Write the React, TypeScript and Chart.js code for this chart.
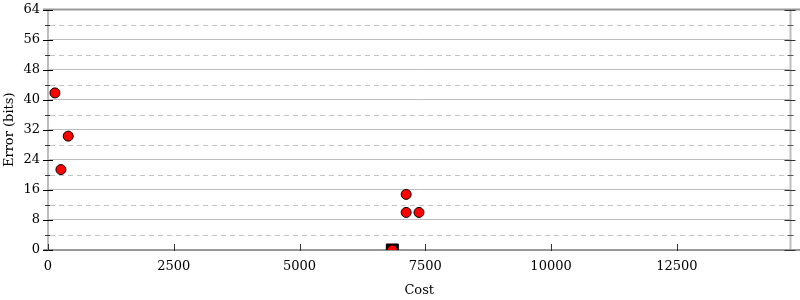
import React, { useEffect, useRef } from "react";
import { Chart, registerables } from "chart.js";

Chart.register(...registerables);

const costs = [138, 402, 257, 7120, 7120, 7375, 6845];
const errors = [41.8, 30.3, 21.4, 14.8, 10, 10, 0];
const bestCost = [6845];
const bestError = [0];
const xTicks = [0, 2500, 5000, 7500, 10000, 12500];
const yMajor = [0, 8, 16, 24, 32, 40, 48, 56, 64];
const yMinor = [4, 12, 20, 28, 36, 44, 52, 60];
const X_MAX = 14760;
const Y_MAX = 64;

const framePlugin = {
  id: "frame",
  beforeDatasetsDraw(chart: any) {
    const { ctx, chartArea: a, scales } = chart;
    const x = scales.x;
    const y = scales.y;
    const line = (x1: number, y1: number, x2: number, y2: number) => {
      ctx.beginPath();
      ctx.moveTo(x1, y1);
      ctx.lineTo(x2, y2);
      ctx.stroke();
    };
    ctx.save();
    ctx.strokeStyle = "#c4c4c4";
    ctx.lineWidth = 1;
    ctx.setLineDash([5, 4]);
    for (const v of yMinor) {
      const py = Math.round(y.getPixelForValue(v)) + 0.5;
      line(a.left + 2, py, a.right - 2, py);
    }
    ctx.setLineDash([]);
    ctx.strokeStyle = "#bdbdbd";
    ctx.lineWidth = 2;
    line(a.left, a.top, a.left, a.bottom);
    line(a.right, a.top, a.right, a.bottom);
    ctx.strokeStyle = "#9a9a9a";
    ctx.lineWidth = 2;
    line(a.left - 5, a.top, 800, a.top);
    line(a.left - 5, a.bottom, 800, a.bottom);
    ctx.lineWidth = 1;
    for (const v of yMajor) {
      const py = Math.round(y.getPixelForValue(v)) + 0.5;
      ctx.strokeStyle = "#000";
      line(a.left - 5, py, a.left + 5, py);
      ctx.strokeStyle = "#333";
      line(a.right - 6, py, a.right + 5, py);
    }
    for (const v of yMinor) {
      const py = Math.round(y.getPixelForValue(v)) + 0.5;
      ctx.strokeStyle = "#333";
      line(a.left - 3, py, a.left + 2, py);
      ctx.strokeStyle = "#555";
      line(a.right - 3, py, a.right + 3, py);
    }
    for (const v of xTicks) {
      const px = Math.round(x.getPixelForValue(v)) + 0.5;
      ctx.strokeStyle = "#333";
      line(px, a.bottom - 6, px, a.bottom + 1);
    }
    ctx.restore();
  },
};

export default function App() {
  const ref = useRef<HTMLCanvasElement>(null);
  useEffect(() => {
    if (!ref.current) return;
    const font = { family: "'DejaVu Serif', serif", size: 13 };
    const chart = new Chart(ref.current, {
      type: "scatter",
      data: {
        datasets: [
          {
            label: "best",
            data: bestCost.map((c, i) => ({ x: c, y: bestError[i] })),
            pointStyle: "rect",
            pointRadius: 8.5,
            backgroundColor: "#000",
            borderColor: "#000",
            borderWidth: 1,
            order: 2,
          },
          {
            label: "points",
            data: costs.map((c, i) => ({ x: c, y: errors[i] })),
            pointStyle: "circle",
            pointRadius: 5,
            backgroundColor: "#ff0000",
            borderColor: "#000",
            borderWidth: 1,
            order: 1,
          },
        ],
      },
      options: {
        animation: false,
        responsive: false,
        events: [],
        layout: { padding: { top: 7, right: 6, left: 0, bottom: 0 } },
        plugins: { legend: { display: false }, tooltip: { enabled: false } },
        scales: {
          x: {
            type: "linear",
            min: 0,
            max: X_MAX,
            afterFit: (s: any) => {
              s.height = 50;
              s.paddingLeft = 0;
              s.paddingRight = 0;
            },
            afterBuildTicks: (s: any) => {
              s.ticks = xTicks.map((v) => ({ value: v }));
            },
            ticks: {
              includeBounds: false,
              autoSkip: false,
              maxRotation: 0,
              color: "#000",
              font,
              padding: 9,
              callback: (v: any) => String(v),
            },
            grid: { display: false, drawTicks: false },
            border: { display: false },
            title: {
              display: true,
              text: "Cost",
              color: "#000",
              font,
              padding: { top: 4, bottom: 2 },
            },
          },
          y: {
            type: "linear",
            min: 0,
            max: Y_MAX,
            afterFit: (s: any) => {
              s.width = 48;
              s.paddingTop = 0;
              s.paddingBottom = 0;
            },
            afterBuildTicks: (s: any) => {
              s.ticks = yMajor.map((v) => ({ value: v }));
            },
            ticks: {
              autoSkip: false,
              color: "#000",
              font,
              padding: 8,
              callback: (v: any) => String(v),
            },
            grid: { color: "#bdbdbd", lineWidth: 1, drawTicks: false },
            border: { display: false },
            title: {
              display: true,
              text: "Error (bits)",
              color: "#000",
              font,
              padding: { top: 2, bottom: 2 },
            },
          },
        },
      },
      plugins: [framePlugin],
    });
    return () => chart.destroy();
  }, []);
  return (
    <div style={{ position: "fixed", left: 0, top: 0, width: 800, height: 300 }}>
      <canvas ref={ref} width={800} height={300} style={{ width: 800, height: 300 }} />
    </div>
  );
}
